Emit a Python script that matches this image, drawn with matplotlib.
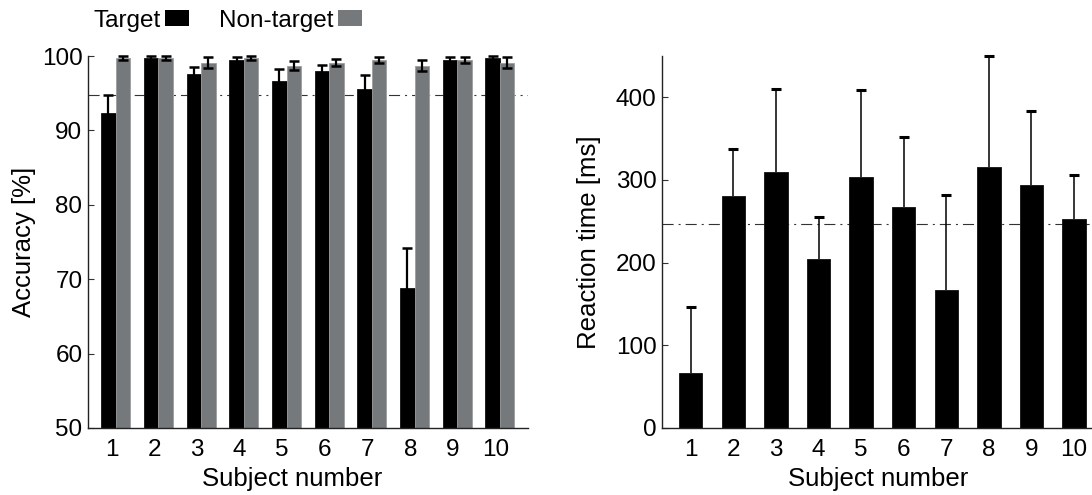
import numpy as np
import matplotlib
matplotlib.use('Agg')
import matplotlib.pyplot as plt
from matplotlib.patches import Patch

plt.rcParams['font.family'] = ['Liberation Sans', 'DejaVu Sans']

subjects = [1, 2, 3, 4, 5, 6, 7, 8, 9, 10]

# accuracy per subject (%)
acc_target = [92.4, 99.7, 97.6, 99.4, 96.6, 98.0, 95.5, 68.8, 99.4, 99.7]
acc_target_err = [2.3, 0.3, 0.9, 0.4, 1.6, 0.8, 1.9, 5.4, 0.4, 0.3]
acc_nontarget = [99.7, 99.7, 99.1, 99.7, 98.7, 99.1, 99.4, 98.7, 99.4, 99.1]
acc_nontarget_err = [0.3, 0.3, 0.7, 0.3, 0.6, 0.5, 0.4, 0.7, 0.4, 0.7]

# reaction time per subject (ms)
rt_mean = [66.7, 280.4, 309.9, 204.0, 304.2, 267.9, 166.8, 316.0, 294.0, 253.3]
rt_err = [79.1, 56.9, 100.1, 51.8, 104.7, 83.6, 115.2, 133.7, 89.8, 52.5]

fs = 17.5
gray = '#76797b'

fig = plt.figure(figsize=(10.92, 4.95), dpi=100)
ax1 = fig.add_axes([88/1092, 67/495, 439.7/1092, 372/495])
ax2 = fig.add_axes([662.3/1092, 67/495, 440.2/1092, 372/495])

x = np.array(subjects, dtype=float)
w = 0.34

# left: accuracy, grouped bars
ax1.axhline(np.mean(acc_target), color='#333333', lw=0.8,
            ls=(0, (10, 4.5, 1.8, 4.5)), zorder=1)
ax1.bar(x - w/2, acc_target, w, color='black', edgecolor='#111111', lw=0.6, zorder=2)
ax1.bar(x + w/2, acc_nontarget, w, color=gray, edgecolor='#9c9ea0', lw=0.6, zorder=2)
ax1.errorbar(x - w/2, acc_target, yerr=acc_target_err, fmt='none', ecolor='black',
             elinewidth=1.6, capsize=3.6, capthick=1.8, zorder=3, clip_on=False)
ax1.errorbar(x + w/2, acc_nontarget, yerr=acc_nontarget_err, fmt='none', ecolor='black',
             elinewidth=1.6, capsize=3.6, capthick=1.8, zorder=3, clip_on=False)
ax1.set_xlim(0.35, 10.65)
ax1.set_ylim(50, 100)
ax1.set_yticks([50, 60, 70, 80, 90, 100])
ax1.set_xticks(x - 0.1)
ax1.set_xticklabels([str(s) for s in subjects])
ax1.set_ylabel('Accuracy [%]', fontsize=fs + 1, labelpad=4)
ax1.set_xlabel('Subject number', fontsize=fs + 1)
ax1.xaxis.set_label_coords(0.465, -0.105)

# right: reaction time, only the upper whisker is drawn
rt_top = np.array(rt_mean) + np.array(rt_err)
ax2.axhline(np.mean(rt_mean), color='#333333', lw=0.8,
            ls=(0, (10, 4.5, 1.8, 4.5)), zorder=1)
ax2.bar(x, rt_mean, 0.55, color='black', edgecolor='#111111', lw=0.6, zorder=2)
ax2.vlines(x, rt_mean, rt_top, color='black', lw=1.1, zorder=3)
ax2.plot(x, rt_top, ls='none', marker='_', ms=7.5, mew=2.2, color='black',
         zorder=3, clip_on=False)
ax2.set_xlim(0.333, 10.667)
ax2.set_ylim(0, 450)
ax2.set_yticks([0, 100, 200, 300, 400])
ax2.set_xticks(x)
ax2.set_xticklabels([str(s) for s in subjects])
ax2.set_ylabel('Reaction time [ms]', fontsize=fs + 1, labelpad=11)
ax2.set_xlabel('Subject number', fontsize=fs + 1)
ax2.xaxis.set_label_coords(0.49, -0.105)

for ax in (ax1, ax2):
    for side in ('top', 'right'):
        ax.spines[side].set_visible(False)
    for side in ('left', 'bottom'):
        ax.spines[side].set_linewidth(1.0)
        ax.spines[side].set_color('#222222')
        ax.spines[side].set_zorder(4)
    ax.tick_params(direction='in', length=4.5, width=0.8, color='#333333',
                   labelsize=fs, pad=4)
    ax.tick_params(axis='x', pad=8)

handles = [Patch(facecolor='black', label='Target'),
           Patch(facecolor=gray, label='Non-target')]
fig.legend(handles=handles, loc='center left', bbox_to_anchor=(93/1092, 0.958),
           ncol=2, frameon=False, markerfirst=False, fontsize=fs,
           handlelength=1.0, handleheight=0.65, handletextpad=0.2,
           columnspacing=1.2, borderpad=0, borderaxespad=0)

fig.savefig('out.png', dpi=100)
